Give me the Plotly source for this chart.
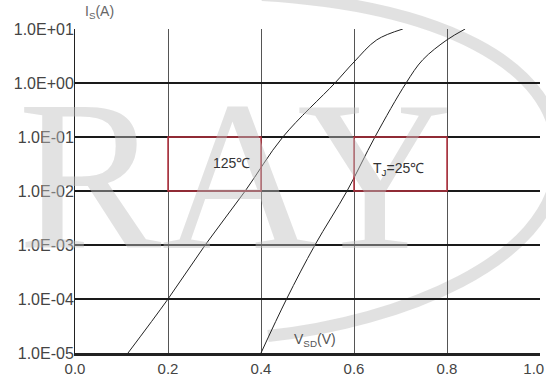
import plotly.graph_objects as go

# Data
v_125 = [0.114, 0.20, 0.28, 0.366, 0.447, 0.559, 0.60, 0.649, 0.705]
i_125 = [1e-5, 1e-4, 1e-3, 1e-2, 1e-1, 1e0, 2.45, 6.3, 1e1]
v_25 = [0.40, 0.455, 0.516, 0.585, 0.645, 0.712, 0.748, 0.80, 0.839]
i_25 = [1e-5, 1e-4, 1e-3, 1e-2, 1e-1, 1e0, 2.7, 6.3, 1e1]

y_tickvals = [1e-5, 1e-4, 1e-3, 1e-2, 1e-1, 1e0, 1e1]
y_ticktext = ["1.0E-05", "1.0E-04", "1.0E-03", "1.0E-02", "1.0E-01", "1.0E+00", "1.0E+01"]
x_tickvals = [0.0, 0.2, 0.4, 0.6, 0.8, 1.0]
x_ticktext = ["0.0", "0.2", "0.4", "0.6", "0.8", "1.0&nbsp;&nbsp;&nbsp;"]

W, H = 546, 383
L, R, T, B = 75, 6, 29, 30
pw, ph = W - L - R, H - T - B


def P(px, py):
    return (px - L) / pw, (H - B - py) / ph


fig = go.Figure()
for xs, ys in [(v_125, i_125), (v_25, i_25)]:
    fig.add_trace(go.Scatter(x=xs, y=ys, mode="lines",
                             line=dict(color="#222222", width=1, shape="spline", smoothing=1.0),
                             showlegend=False, hoverinfo="skip"))

# watermark arc
a = P(262, -5); c1 = P(430, 5); c2 = P(565, 60); m = P(558, 165)
c3 = P(552, 262); c4 = P(400, 322); e = P(268, 336)
path = (f"M {a[0]},{a[1]} C {c1[0]},{c1[1]} {c2[0]},{c2[1]} {m[0]},{m[1]} "
        f"C {c3[0]},{c3[1]} {c4[0]},{c4[1]} {e[0]},{e[1]}")
shapes = [dict(type="path", path=path, xref="paper", yref="paper",
               line=dict(color="rgba(205,205,205,0.6)", width=12), layer="below")]

# red boxes
for x0, x1 in [(0.2, 0.4), (0.6, 0.8)]:
    shapes.append(dict(type="rect", xref="x", yref="y", x0=x0, x1=x1, y0=1e-2, y1=1e-1,
                       line=dict(color="#b8323f", width=1.5), layer="above"))

annotations = [
    dict(text="RAY", xref="paper", yref="paper", x=P(235, 175)[0], y=P(235, 175)[1],
         showarrow=False, font=dict(family="Liberation Serif", size=215, color="rgba(190,190,190,0.45)"),
         xanchor="center", yanchor="middle"),
    dict(text="I<sub>S</sub>(A)", xref="paper", yref="paper", x=P(99, 12)[0], y=P(99, 12)[1],
         showarrow=False, font=dict(family="Liberation Sans", size=14, color="#666666"),
         xanchor="center", yanchor="middle"),
    dict(text="V<sub>SD</sub>(V)", xref="paper", yref="paper", x=P(315, 340)[0], y=P(315, 340)[1],
         showarrow=False, font=dict(family="Liberation Sans", size=14, color="#555555"),
         xanchor="center", yanchor="middle"),
    dict(text="125℃", xref="x", yref="y", x=0.337, y=-1.48,
         showarrow=False, font=dict(family="Liberation Sans", size=14, color="#333333"),
         xanchor="center", yanchor="middle"),
    dict(text="T<sub>J</sub>=25℃", xref="x", yref="y", x=0.695, y=-1.6,
         showarrow=False, font=dict(family="Liberation Sans", size=14, color="#333333"),
         xanchor="center", yanchor="middle"),
]

fig.update_layout(
    width=W, height=H,
    margin=dict(l=L, r=R, t=T, b=B, autoexpand=False),
    paper_bgcolor="white", plot_bgcolor="white",
    shapes=shapes, annotations=annotations,
    xaxis=dict(range=[0, 1], tickvals=x_tickvals, ticktext=x_ticktext,
               showgrid=True, gridcolor="#555555", gridwidth=1.3, zeroline=False,
               showline=True, linecolor="#222222", linewidth=3, mirror=False,
               ticklabeloverflow="allow", automargin=False,
               tickfont=dict(family="Liberation Sans", size=15, color="#444444"), ticks=""),
    yaxis=dict(type="log", range=[-5, 1], tickvals=y_tickvals, ticktext=y_ticktext,
               showgrid=True, gridcolor="#1a1a1a", gridwidth=2, zeroline=False,
               showline=True, linecolor="#222222", linewidth=1,
               ticklabelstandoff=-3, automargin=False,
               tickfont=dict(family="Liberation Sans", size=16, color="#444444"), ticks=""),
)

fig.write_html("out.html")
